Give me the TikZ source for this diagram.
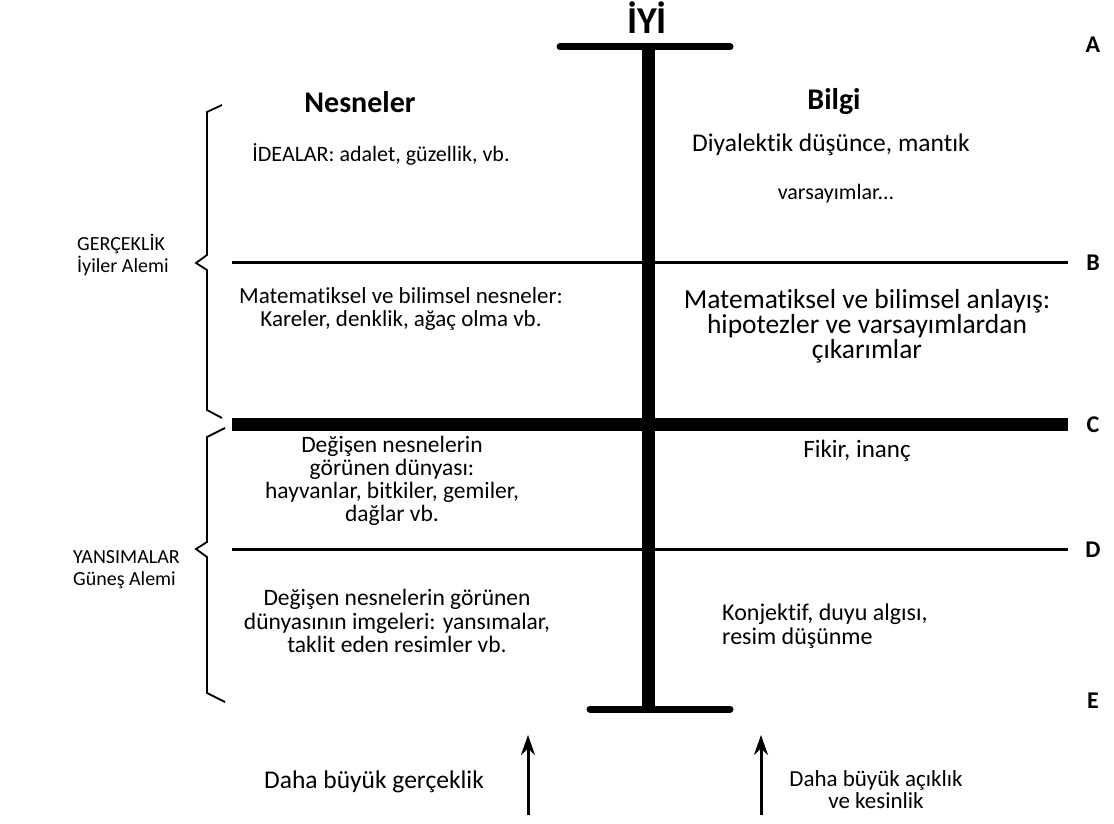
\documentclass[tikz,border=0pt]{standalone}
\usepackage{fontspec}
\setmainfont{Carlito}[Ligatures={NoCommon}]
\usetikzlibrary{arrows.meta}
\tikzset{>={Stealth[length=20pt,width=14pt]}}
\tikzset{
  bar/.style={line width=#1},
  brc/.style={line width=1.8pt},
  txt/.style={align=center, inner sep=0pt},
  lvl/.style={font=\fontsize{24}{24}\selectfont\bfseries, inner sep=0pt, anchor=base},
}

\begin{document}
\begin{tikzpicture}[x=1pt, y=-1pt]
    \useasboundingbox (0,0) rectangle (1114,824);
    % the divided line
    \coordinate (topL) at (560,47);
    \coordinate (topR) at (730,47);
    \coordinate (mid) at (648,47);
    \coordinate (midE) at (648,709);
    \coordinate (botL) at (590,709);
    \coordinate (botR) at (730,709);
    \draw[bar=7pt, line cap=round] (topL) -- (topR);
    \draw[bar=13pt] (mid) -- (midE);
    \draw[bar=7pt, line cap=round] (botL) -- (botR);
    \coordinate (bL) at (232,262);
    \coordinate (bR) at (1068,262);
    \coordinate (cL) at (232,424);
    \coordinate (cR) at (1068,424);
    \coordinate (dL) at (232,549);
    \coordinate (dR) at (1068,549);
    \draw[bar=3pt] (bL) -- (bR);
    \draw[bar=13pt] (cL) -- (cR);
    \draw[bar=3pt] (dL) -- (dR);
    % level letters
    \node[lvl] (lvlA) at (1093,53) {A};
    \node[lvl] (lvlB) at (1093,270) {B};
    \node[lvl] (lvlC) at (1093,432) {C};
    \node[lvl] (lvlD) at (1093,557) {D};
    \node[lvl] (lvlE) at (1093,708) {E};
    % headings
    \node[txt, anchor=base, font=\fontsize{38}{38}\selectfont\bfseries] (iyi) at (647,34) {İYİ};
    \node[txt, anchor=base, font=\fontsize{30}{30}\selectfont\bfseries] (nesneler) at (360,113) {Nesneler};
    \node[txt, anchor=base, font=\fontsize{30}{30}\selectfont\bfseries] (bilgi) at (834,110) {Bilgi};
    % left column
    \node[txt, anchor=base, font=\fontsize{22}{22}\selectfont] (idealar) at (381,162) {İDEALAR: adalet, güzellik, vb.};
    \node[txt, font=\fontsize{23}{23}\selectfont] (matN) at (401,309) {Matematiksel ve bilimsel nesneler:\\Kareler, denklik, ağaç olma vb.};
    \node[txt, font=\fontsize{23.5}{23}\selectfont] (degisen) at (392,481) {Değişen nesnelerin\\görünen dünyası:\\hayvanlar, bitkiler, gemiler,\\dağlar vb.};
    \node[txt, font=\fontsize{23.5}{23.5}\selectfont] (imgeler) at (397,621) {Değişen nesnelerin görünen\\dünyasının imgeleri: yansımalar,\\taklit eden resimler vb.};
    % right column
    \node[txt, anchor=base, font=\fontsize{25.5}{25}\selectfont] (diyalektik) at (831,152) {Diyalektik düşünce, mantık};
    \node[txt, anchor=base, font=\fontsize{22}{25}\selectfont] (varsayim) at (836,200) {varsayımlar...};
    \node[txt, font=\fontsize{27.5}{25}\selectfont] (matA) at (867,326) {Matematiksel ve bilimsel anlayış:\\hipotezler ve varsayımlardan\\çıkarımlar};
    \node[txt, anchor=base, font=\fontsize{25}{25}\selectfont] (fikir) at (857,457) {Fikir, inanç};
    \node[txt, anchor=west, align=left, font=\fontsize{24}{24}\selectfont] (konj) at (722,626) {Konjektif, duyu algısı,\\resim düşünme};
    % braces and realms
    \draw[brc] (222,105) -- (207,112) -- (207,255) -- (196,263) -- (207,270) -- (207,410) -- (222,418);
    \draw[brc] (225,428) -- (207,437) -- (207,542) -- (196,549) -- (207,557) -- (207,693) -- (225,702);
    \node[txt, anchor=west, align=left, font=\fontsize{20}{22}\selectfont] (gerceklik) at (77,255) {GERÇEKLİK\\İyiler Alemi};
    \node[txt, anchor=west, align=left, font=\fontsize{20}{22}\selectfont] (yansima) at (73,570) {YANSIMALAR\\Güneş Alemi};
    % arrows
    \coordinate (arrL) at (528,815);
    \coordinate (arrLt) at (528,735);
    \coordinate (arrR) at (761,815);
    \coordinate (arrRt) at (761,735);
    \draw[->, line width=3pt] (arrL) -- (arrLt);
    \draw[->, line width=3pt] (arrR) -- (arrRt);
    \node[txt, anchor=base, font=\fontsize{25.5}{25}\selectfont] (gercek) at (374,788) {Daha büyük gerçeklik};
    \node[txt, font=\fontsize{23}{22}\selectfont] (aciklik) at (876,790) {Daha büyük açıklık\\ve kesinlik};
\end{tikzpicture}
\end{document}
